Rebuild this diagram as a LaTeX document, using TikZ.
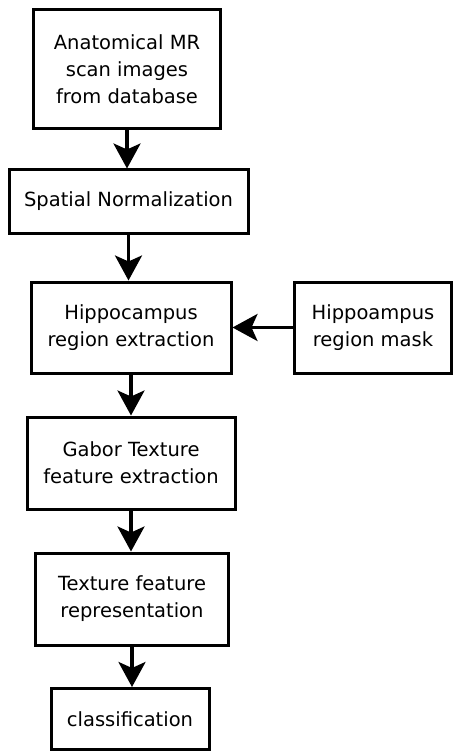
\documentclass[tikz,border=0pt]{standalone}
\usepackage{fontspec}
\setmainfont{DejaVu Sans}
\usepackage{tikz}
\usetikzlibrary{arrows.meta, positioning}

\begin{document}
\begin{tikzpicture}[x=1pt,y=-1pt,>={Stealth[length=25pt,width=27pt,inset=6pt]},
        every node/.style={font=\fontsize{19.5}{27}\selectfont},
        stage/.style={draw=black,line width=3pt,align=center,inner sep=0pt},
        flow/.style={->,line width=3.2pt}]
    \useasboundingbox (0,0) rectangle (454,751);

      \node[stage,minimum width=187pt,minimum height=119pt] (scan)  at (127,69.5) {Anatomical MR\\scan images\\from database};
      \node[stage,minimum width=239pt,minimum height=63pt]  (norm)  at (128.5,201.5) {Spatial Normalization};
      \node[stage,minimum width=200pt,minimum height=91pt]  (hippo) at (131,327.5) {Hippocampus\\region extraction};
      \node[stage,minimum width=157pt,minimum height=91pt]  (mask)  at (373,327.5) {Hippoampus\\region mask};
      \node[stage,minimum width=208pt,minimum height=92pt]  (gabor) at (131,463) {Gabor Texture\\feature extraction};
      \node[stage,minimum width=193pt,minimum height=92pt]  (repr)  at (132,599) {Texture feature\\representation};
      \node[stage,minimum width=158pt,minimum height=61pt]  (class) at (130,719) {classification};

      \draw[flow] (scan.south) -- (scan.south |- norm.north);
      \draw[flow] (norm.south) -- (norm.south |- hippo.north);
      \draw[flow] (mask) -- (hippo);
      \draw[flow] (hippo.south) -- (hippo.south |- gabor.north);
      \draw[flow] (gabor.south) -- (gabor.south |- repr.north);
      \draw[flow] (repr.south) -- (repr.south |- class.north);
    \end{tikzpicture}
\end{document}
